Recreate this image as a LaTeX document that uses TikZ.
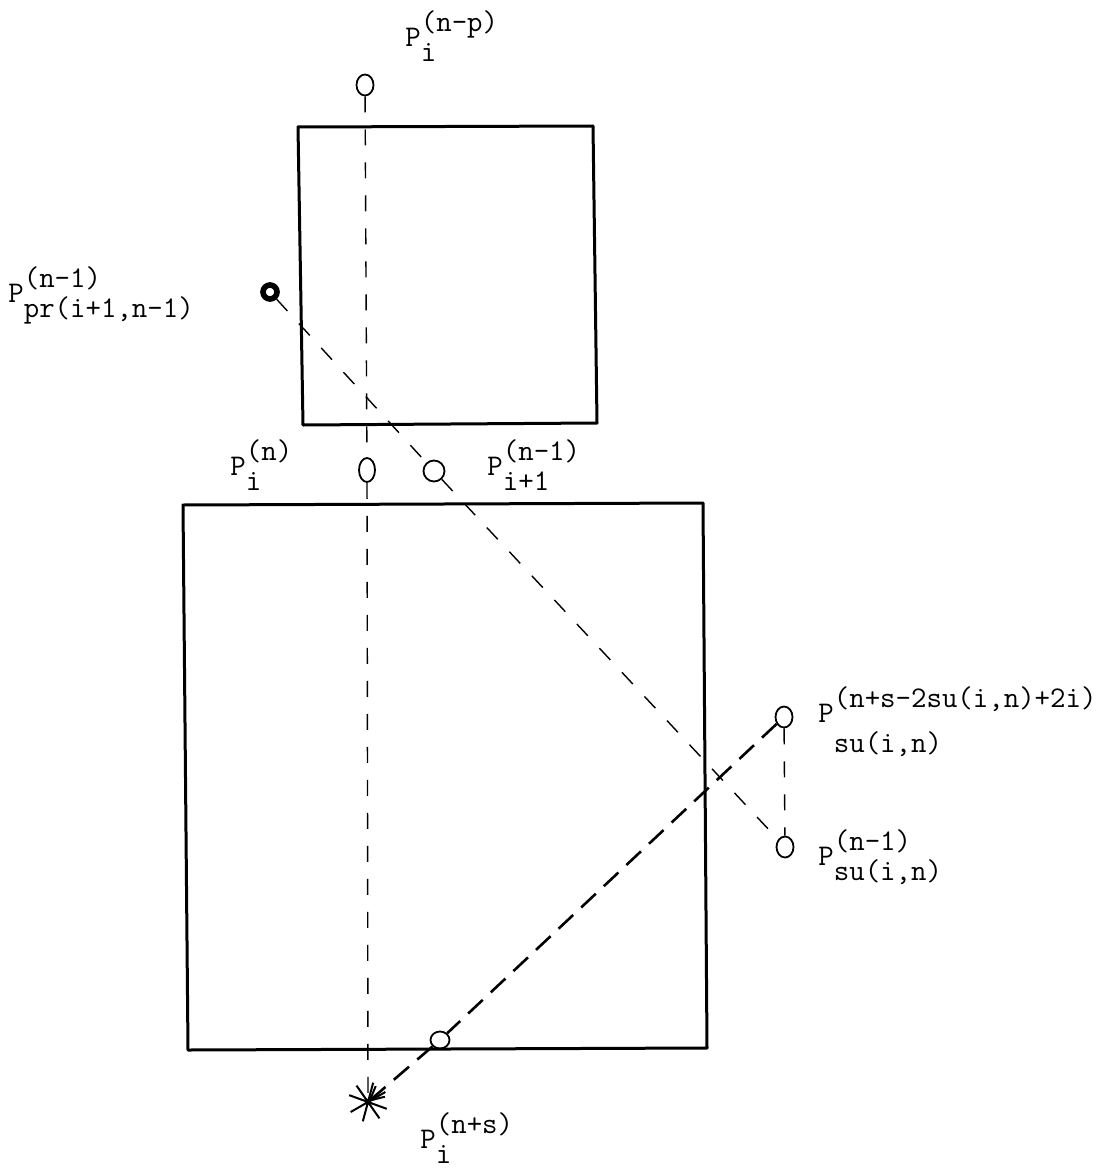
\documentclass[tikz,border=0pt]{standalone}
\usepackage{fontspec}
\usepackage{tikz}
\usetikzlibrary{shapes.geometric, arrows.meta}
\newcommand{\Plab}[3][7.5pt]{P\rlap{\raisebox{7.5pt}{#2}}\raisebox{-#1}{#3}}
\tikzset{
  ring/.style={draw, ellipse, inner sep=0pt, line width=0.9pt, minimum width=8.5pt, minimum height=10.5pt},
  dotring/.style={draw, circle, inner sep=0pt, line width=2.8pt, minimum size=7pt},
  lab/.style={anchor=base west, inner sep=0pt, font=\fontsize{15}{17}\ttfamily},
  box/.style={line width=1.5pt, line join=round},
  trace/.style={line width=0.7pt, dash pattern=on 8pt off 8.5pt},
  ray/.style={line width=1.3pt, dash pattern=on 10pt off 5.5pt}
}
\begin{document}
\begin{tikzpicture}[x=0.5pt, y=-0.5pt]
  \useasboundingbox (0,0) rectangle (1112,1172);
  \draw[box] (298,127) -- (593,126) -- (597,423) -- (303,425) -- cycle;
  \draw[box] (183,505) -- (703,503) -- (707,1048) -- (188,1050) -- cycle;

  \node[ring] (top) at (365,85) {};
  \node[dotring] (pr) at (270,292) {};
  \node[ring, minimum width=8pt, minimum height=12pt] (cn) at (367,470) {};
  \node[ring, minimum width=10.5pt, minimum height=10.5pt] (cip) at (434,471) {};
  \node[ring] (rt) at (784,717) {};
  \node[ring] (rb) at (785,847) {};
  \node[ring, minimum width=9.5pt, minimum height=8.5pt] (bc) at (440,1040) {};
  \coordinate (star) at (368,1102);

  \draw[line width=1pt, shift={(star)}]
    \foreach \a in {-20,30,75,125} {(\a:10pt) -- (\a+180:10pt)};

  \draw[trace] (top) -- (cn);
  \draw[trace] (cn) -- (star);
  \draw[trace] (pr) -- (cip);
  \draw[trace] (cip) -- (rb);
  \draw[trace] (rt) -- (rb);
  \draw[ray] (rt) -- (bc);
  \draw[ray, -{Straight Barb[length=7pt, width=7pt, line width=1pt]}] (bc) -- (star);

  \node[lab] (ltop) at (405,47) {\Plab{(n-p)}{i}};
  \node[lab] (lpr) at (8,302) {\Plab{(n-1)}{pr(i+1,n-1)}};
  \node[lab] (ln) at (230,475) {\Plab{(n)}{i}};
  \node[lab] (lip) at (487,475) {\Plab{(n-1)}{i+1}};
  \node[lab] (lrt) at (818,722) {\Plab[15pt]{(n+s-2su(i,n)+2i)}{su(i,n)}};
  \node[lab] (lrb) at (818,865) {\Plab{(n-1)}{su(i,n)}};
  \node[lab] (ls) at (420,1148) {\Plab{(n+s)}{i}};
\end{tikzpicture}
\end{document}
